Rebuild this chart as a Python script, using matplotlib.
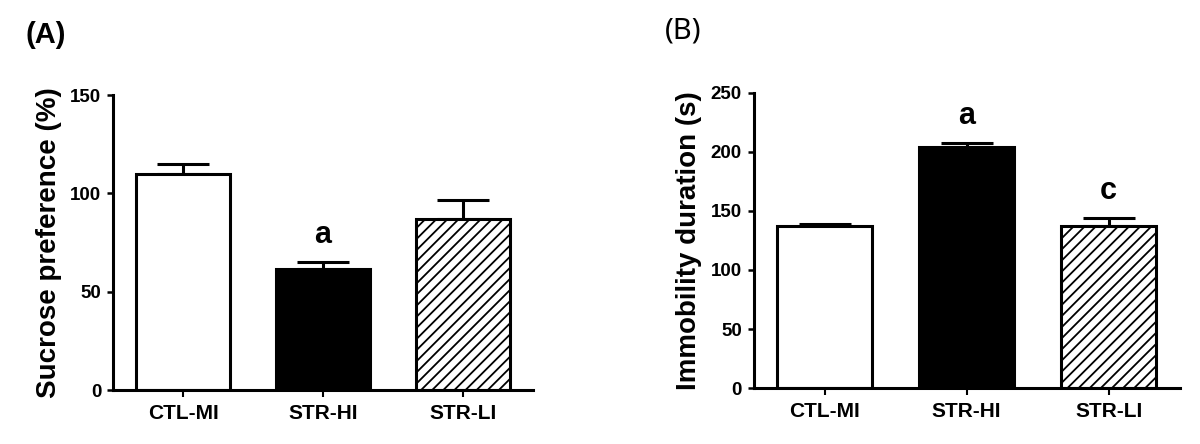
import matplotlib
matplotlib.use("Agg")
import matplotlib.pyplot as plt

plt.rcParams['font.family'] = ['Liberation Sans', 'DejaVu Sans']
plt.rcParams['font.weight'] = 'bold'
plt.rcParams['hatch.linewidth'] = 1.3

categories = ['CTL-MI', 'STR-HI', 'STR-LI']

sucrose = [110, 61.5, 87]
sucrose_err = [5, 3.5, 9.5]
sucrose_sig = ['', 'a', '']

immobility = [137, 204, 137]
immobility_err = [1.5, 3.5, 7]
immobility_sig = ['', 'a', 'c']

fills = ['white', 'black', 'white']
hatches = ['', '', '///']


def draw_panel(ax, values, errs, sig, ylabel, ymax, step):
    x = range(len(categories))
    ax.bar(x, values, width=0.67, color=fills, edgecolor='black',
           linewidth=2.2, hatch=hatches, zorder=2)
    ax.errorbar(x, values, yerr=[[0] * len(errs), errs], fmt='none',
                ecolor='black', elinewidth=2.2, capsize=19, capthick=2.2,
                zorder=1)
    for i, s in enumerate(sig):
        if s:
            ax.annotate(s, (i, values[i] + errs[i]), xytext=(0, 14),
                        textcoords='offset points', ha='center',
                        va='baseline', fontsize=22, fontweight='bold')
    ax.set_xlim(-0.5, 2.5)
    ax.set_ylim(0, ymax)
    ax.set_yticks(range(0, ymax + 1, step))
    ax.set_xticks(list(x))
    ax.set_xticklabels(categories)
    ax.set_ylabel(ylabel, fontsize=20, fontweight='bold', labelpad=6)
    for side in ['top', 'right']:
        ax.spines[side].set_visible(False)
    for side in ['left', 'bottom']:
        ax.spines[side].set_linewidth(2.2)
    ax.tick_params(axis='y', length=4.5, width=1.8, pad=4, labelsize=13.5)
    ax.tick_params(axis='x', length=5, width=1.5, pad=5, labelsize=15)


fig = plt.figure(figsize=(12, 4.44), dpi=100)
ax1 = fig.add_axes([0.0942, 0.1216, 0.35, 0.664])
ax2 = fig.add_axes([0.628, 0.126, 0.355, 0.665])

draw_panel(ax1, sucrose, sucrose_err, sucrose_sig, 'Sucrose preference (%)', 150, 50)
draw_panel(ax2, immobility, immobility_err, immobility_sig, 'Immobility duration (s)', 250, 50)

fig.text(0.021, 0.952, '(A)', fontsize=21, fontweight='bold', va='top', ha='left')
fig.text(0.554, 0.962, '(B)', fontsize=21, fontweight='medium', va='top', ha='left',
         family=['Noto Sans', 'DejaVu Sans'])

fig.savefig('out.png', dpi=100, facecolor='white')
